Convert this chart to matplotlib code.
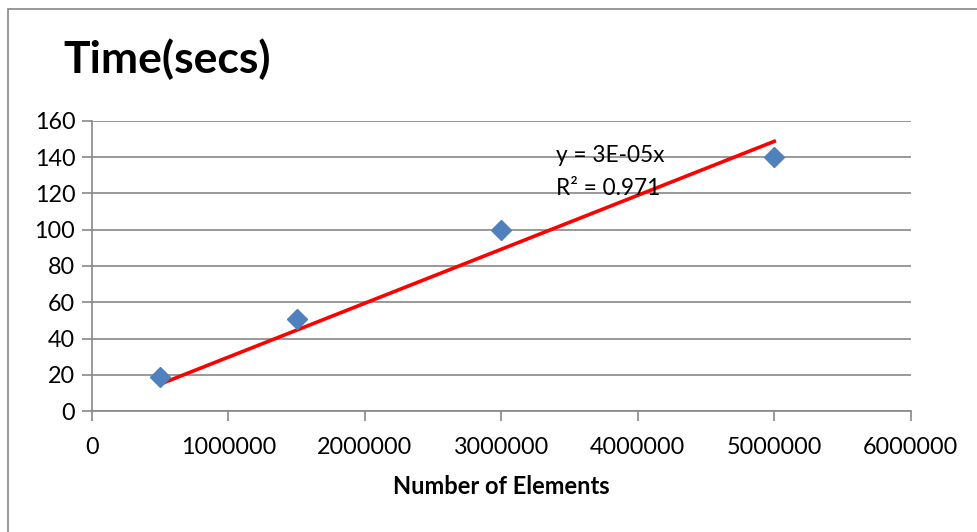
import numpy as np
import matplotlib.pyplot as plt
from matplotlib.patches import Rectangle

# elements sorted vs. measured time
n_elements = [500000, 1500000, 3000000, 5000000]
time_secs = [19, 51, 100, 140]
x_ticks = [0, 1000000, 2000000, 3000000, 4000000, 5000000, 6000000]
y_ticks = [0, 20, 40, 60, 80, 100, 120, 140, 160]

plt.rcParams['font.family'] = ['Lato', 'DejaVu Sans']
grey = '#878787'

fig = plt.figure(figsize=(9.77, 5.32), dpi=100)
ax = fig.add_axes([0.0942, 0.2274, 0.838, 0.5452])

# outer chart frame
fig.patches.append(Rectangle((8/977, -0.1), 1.2, 1 - 9/532 + 0.1, transform=fig.transFigure,
                             fill=False, edgecolor=grey, linewidth=1.2))

x = np.array(n_elements, dtype=float)
y = np.array(time_secs, dtype=float)

# linear trend line through the origin
slope = np.sum(x * y) / np.sum(x * x)
fit = slope * x
r2 = 1 - np.sum((y - fit) ** 2) / np.sum((y - y.mean()) ** 2)
xs = np.array([x.min(), x.max()])
ax.plot(xs, slope * xs, color='#ff0000', linewidth=2.6, zorder=3)

ax.plot(x, y, linestyle='none', marker='D', markersize=10.5, color='#4f81bd', zorder=4)

ax.text(3400000, 141, 'y = 3E-05x', fontsize=16.3, va='center', ha='left')
ax.text(3400000, 123, 'R² = %.3f' % r2, fontsize=16.3, va='center', ha='left')

ax.set_xlim(0, 6000000)
ax.set_ylim(0, 160)
ax.set_xticks(x_ticks)
ax.set_yticks(y_ticks)
ax.set_xticklabels([str(v) for v in x_ticks])
ax.set_yticklabels([str(v) for v in y_ticks])
ax.tick_params(axis='both', labelsize=16.8, color=grey, length=7, width=1.2, direction='out')
ax.tick_params(axis='x', pad=12)
ax.tick_params(axis='y', pad=5)
ax.grid(axis='y', color=grey, linewidth=1.2)
ax.set_axisbelow(True)
for s in ['top', 'right']:
    ax.spines[s].set_visible(False)
for s in ['left', 'bottom']:
    ax.spines[s].set_color(grey)
    ax.spines[s].set_linewidth(1.2)

ax.set_xlabel('Number of Elements', fontsize=17, fontweight='bold', labelpad=12)
fig.text(63/977, 1 - 73/532, 'Time(secs)', fontsize=32, fontweight='bold', ha='left', va='baseline')

fig.savefig('out.png', dpi=100)
